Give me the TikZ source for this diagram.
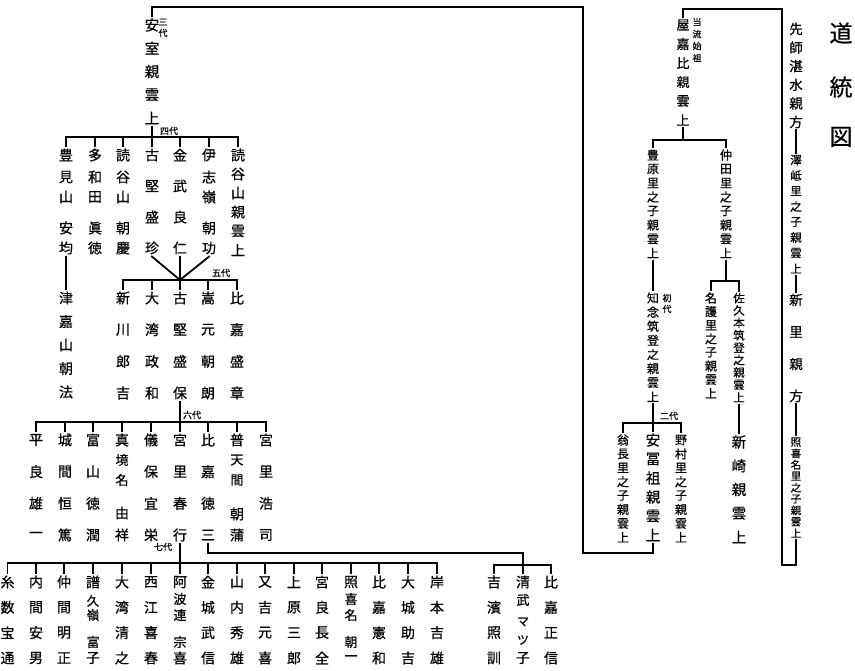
\documentclass[tikz,border=0pt]{standalone}
\usepackage{fontspec}
\newfontfamily\jp[FakeBold=0.6]{Noto Sans CJK JP}
\tikzset{
  ln/.style={line width=1.8pt, line cap=rect},
  ch/.style={inner sep=0pt, outer sep=1.6pt, text=black},
  lab/.style={inner sep=0pt, font=\jp\fontsize{9}{9}\selectfont},
}
% column with explicit positions: name, x, size, list y/char
\newcommand\vcol[4]{\foreach \yy/\cc [count=\ii] in {#4}{\node[ch,minimum size=#3pt,font=\jp\fontsize{#3}{#3}\selectfont] (#1-\ii) at (#2,\yy) {\cc};}}
% column with per-character size: name, x, list y/size/char
\newcommand\vcolS[3]{\foreach \yy/\ss/\cc [count=\ii] in {#3}{\node[ch,minimum size=\ss pt,font=\jp\fontsize{\ss}{\ss}\selectfont] (#1-\ii) at (#2,\yy) {\cc};}}
% evenly spaced column: name, x, size, y0, dy, chars
\newcommand\vcolE[6]{\foreach \cc [count=\ii] in {#6}{\node[ch,minimum size=#3pt,font=\jp\fontsize{#3}{#3}\selectfont] (#1-\ii) at (#2,{#4+(\ii-1)*#5}) {\cc};}}
% bus: y, parent, first child, last child, children
\newcommand\bus[5]{%
  \coordinate (by) at (0,#1);
  \draw[ln] (#3.north |- by) -- (#4.north |- by);
  \draw[ln] (#2.south) -- (#2.south |- by);
  \foreach \cn in {#5} {\draw[ln] (\cn.north) -- (\cn.north |- by);}
}
\newcommand\busc[4]{%
  \coordinate (by) at (0,#1);
  \draw[ln] (#2.north |- by) -- (#3.north |- by);
  \foreach \cn in {#4} {\draw[ln] (\cn.north) -- (\cn.north |- by);}
}
\begin{document}
\begin{tikzpicture}[x=1pt,y=-1pt]
\fill[white] (0,0) rectangle (855,671);
\useasboundingbox (0,0) rectangle (855,671);

% title
\vcol{title}{841}{23}{33/道,87/統,137/図}

% right-hand lineage
\vcolE{sensi}{796}{13.5}{29}{18.6}{先,師,湛,水,親,方}
\vcolE{takushi}{796}{11.5}{160}{15.5}{澤,岻,里,之,子,親,雲,上}
\vcolE{shinzato}{796}{13.5}{300}{32}{新,里,親,方}
\vcolE{teruk}{796}{10.5}{442}{11.4}{照,喜,名,里,之,子,親,雲,上}
\draw[ln] (sensi-6.south) -- (takushi-1.north);
\draw[ln] (takushi-8.south) -- (shinzato-1.north);
\draw[ln] (shinzato-4.south) -- (teruk-1.north);

\vcolE{ykb}{683}{13}{25}{19}{屋,嘉,比,親,雲,上}
\vcolE{toryu}{697}{9}{22}{12}{当,流,始,祖}
\coordinate (k3) at (782,565);
\coordinate (k4) at (782,9);
\draw[ln] (teruk-9.south) |- (k3) -- (k4) -| (ykb-1.north);

\vcolE{toyo}{653}{12}{155}{14}{豊,原,里,之,子,親,雲,上}
\vcolE{naka}{726}{12}{155}{14}{仲,田,里,之,子,親,雲,上}
\bus{140}{ykb-6}{toyo-1}{naka-1}{toyo-1,naka-1}

\vcolE{chinen}{653}{12}{298}{14.1}{知,念,筑,登,之,親,雲,上}
\vcolE{shodai}{667}{9}{298}{11}{初,代}
\draw[ln] (toyo-8.south) -- (chinen-1.north);

\vcolE{onaga}{623}{12}{440}{13.9}{翁,長,里,之,子,親,雲,上}
\vcolE{afuso}{653}{14.5}{440}{19}{安,冨,祖,親,雲,上}
\vcolE{nomura}{681}{12}{440}{13.9}{野,村,里,之,子,親,雲,上}
\node[lab] (nidai) at (669,416) {二代};
\bus{423}{chinen-8}{onaga-1}{nomura-1}{onaga-1,afuso-1,nomura-1}

\vcolE{nago}{711}{12}{298}{13.6}{名,護,里,之,子,親,雲,上}
\vcolE{sakumoto}{739}{11.5}{298}{12.4}{佐,久,本,筑,登,之,親,雲,上}
\bus{281}{naka-8}{nago-1}{sakumoto-1}{nago-1,sakumoto-1}
\vcolE{arasaki}{739}{14.5}{442}{23.75}{新,崎,親,雲,上}
\draw[ln] (sakumoto-9.south) -- (arasaki-1.north);

% link to the left-hand lineage
\vcolE{ashitsu}{152}{14.5}{25}{23.25}{安,室,親,雲,上}
\vcolE{sandai}{163}{9}{22}{11}{三,代}
\coordinate (k1) at (583,553);
\coordinate (k2) at (583,7);
\draw[ln] (afuso-6.south) |- (k1) -- (k2) -| (ashitsu-1.north);

% fourth generation
\node[lab] (yondai) at (169,131) {四代};
\vcol{toyomi}{66}{14}{155/豊,177/見,197/山,228/安,248/均}
\vcol{tawada}{95}{14}{155/多,177/和,197/田,228/眞,248/徳}
\vcol{yomi1}{123}{14}{155/読,177/谷,197/山,228/朝,248/慶}
\vcolE{furu}{152}{14}{155}{31}{古,堅,盛,珍}
\vcolE{kin}{180}{14}{155}{31}{金,武,良,仁}
\vcol{ishi}{209}{14}{155/伊,177/志,197/嶺,228/朝,248/功}
\vcolE{yomi2}{238}{14}{155}{19}{読,谷,山,親,雲,上}
\bus{137}{ashitsu-5}{toyomi-1}{yomi2-1}{toyomi-1,tawada-1,yomi1-1,furu-1,kin-1,ishi-1,yomi2-1}

\vcolE{tsuka}{66}{14}{298}{23.5}{津,嘉,山,朝,法}
\draw[ln] (toyomi-5.south) -- (tsuka-1.north);

% fifth generation
\node[lab] (godai) at (221,273) {五代};
\vcolE{arakawa}{123}{14}{298}{31.67}{新,川,郎,吉}
\vcolE{owan}{152}{14}{298}{31.67}{大,湾,政,和}
\vcolE{furu2}{180}{14}{298}{31.67}{古,堅,盛,保}
\vcolE{take}{208}{14}{298}{31.67}{嵩,元,朝,朗}
\vcolE{higa1}{237}{14}{298}{31.67}{比,嘉,盛,章}
\coordinate (conv) at (180,280);
\draw[ln] (furu-4.south) -- (conv);
\draw[ln] (kin-4.south) -- (conv);
\draw[ln] (ishi-5.south) -- (conv);
\busc{280}{arakawa-1}{higa1-1}{arakawa-1,owan-1,furu2-1,take-1,higa1-1}

% sixth generation
\node[lab] (rokudai) at (192,415) {六代};
\vcolE{taira}{36}{14}{440}{31.67}{平,良,雄,一}
\vcolE{gusuku}{65}{14}{440}{31.67}{城,間,恒,篤}
\vcolE{tomi}{93}{14}{440}{31.67}{富,山,徳,潤}
\vcolS{majik}{122}{440/14/真,460/13/境,480/13/名,513/14/由,535/14/祥}
\vcolE{gibo}{151}{14}{440}{31.67}{儀,保,宜,栄}
\vcolE{miya1}{180}{14}{440}{31.67}{宮,里,春,行}
\vcolE{higa2}{208}{14}{440}{31.67}{比,嘉,徳,三}
\vcolS{futen}{237}{440/14/普,460/13/天,480/13/間,514/14/朝,535/14/蒲}
\vcolE{miya2}{266}{14}{440}{31.67}{宮,里,浩,司}
\bus{422}{furu2-4}{taira-1}{miya2-1}{taira-1,gusuku-1,tomi-1,majik-1,gibo-1,miya1-1,higa2-1,futen-1,miya2-1}

% seventh generation
\node[lab] (nanadai) at (163,547) {七代};
\vcolE{itokazu}{7.5}{14}{582}{25.33}{糸,数,宝,通}
\vcolE{uchima}{36}{14}{582}{25.33}{内,間,安,男}
\vcolE{nakama}{64}{14}{582}{25.33}{仲,間,明,正}
\vcolS{fukum}{93}{582/14/譜,601/12.5/久,615/12.5/嶺,642/13/富,658/14/子}
\vcolE{owan2}{122}{14}{582}{25.33}{大,湾,清,之}
\vcolE{irie}{151}{14}{582}{25.33}{西,江,喜,春}
\vcolS{ahare}{180}{582/14/阿,599/13/波,615/13/連,642/13/宗,658/14/喜}
\vcolE{kinjo}{208}{14}{582}{25.33}{金,城,武,信}
\vcolE{yamau}{237}{14}{582}{25.33}{山,内,秀,雄}
\vcolE{mata}{265}{14}{582}{25.33}{又,吉,元,喜}
\vcolE{uehara}{294}{14}{582}{25.33}{上,原,三,郎}
\vcolE{miyara}{322}{14}{582}{25.33}{宮,良,長,全}
\vcolS{teruk2}{351}{582/14/照,599/13/喜,615/13/名,642/13/朝,658/13/一}
\vcolE{higa3}{379}{14}{582}{25.33}{比,嘉,憲,和}
\vcolE{oshiro}{408}{14}{582}{25.33}{大,城,助,吉}
\vcolE{kishi}{437}{14}{582}{25.33}{岸,本,吉,雄}
\bus{563}{miya1-4}{itokazu-1}{kishi-1}{itokazu-1,uchima-1,nakama-1,fukum-1,owan2-1,irie-1,ahare-1,kinjo-1,yamau-1,mata-1,uehara-1,miyara-1,teruk2-1,higa3-1,oshiro-1,kishi-1}

\vcolE{yoshi}{494}{14}{582}{25.33}{吉,濱,照,訓}
\vcolS{kiyo}{523}{582/14/清,600/13/武,622/12/マ,640/12/ツ,658/14/子}
\vcolE{higa4}{551}{14}{582}{25.33}{比,嘉,正,信}
\coordinate (k5) at (523,553);
\coordinate (k6) at (523,565);
\draw[ln] (higa2-4.south) |- (k5) -- (k6);
\busc{565}{yoshi-1}{higa4-1}{yoshi-1,kiyo-1,higa4-1}
\end{tikzpicture}
\end{document}
